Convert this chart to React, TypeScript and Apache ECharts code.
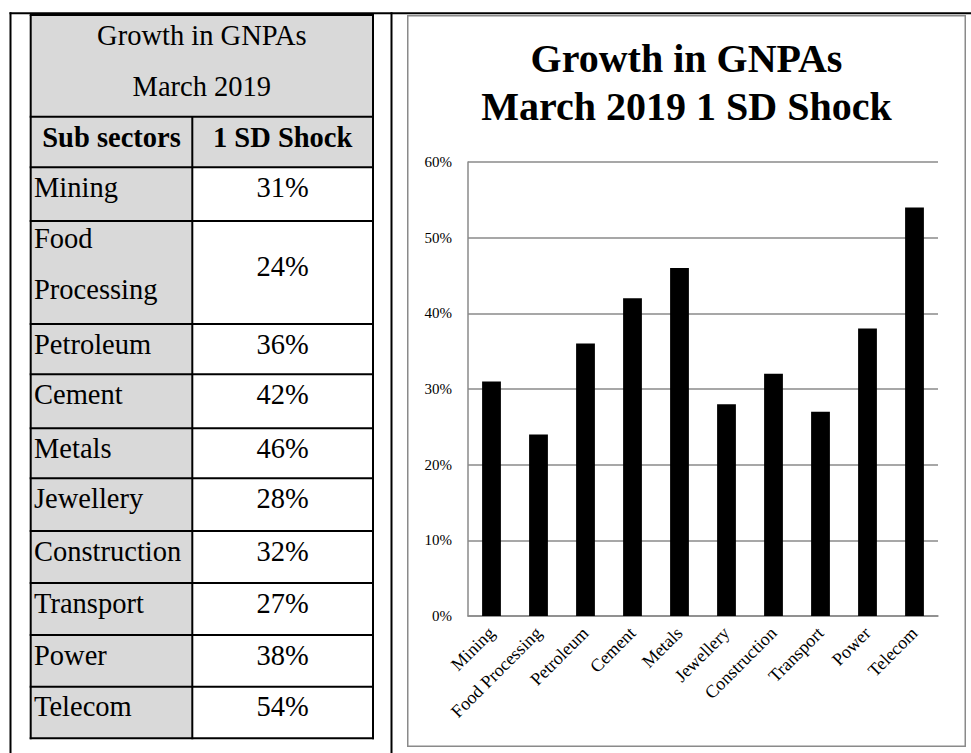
import React, { useEffect, useRef } from "react";
import * as echarts from "echarts";

// ---------- data ----------
const categories = [
  "Mining",
  "Food Processing",
  "Petroleum",
  "Cement",
  "Metals",
  "Jewellery",
  "Construction",
  "Transport",
  "Power",
  "Telecom",
];
const shockValues = [31, 24, 36, 42, 46, 28, 32, 27, 38, 54];
const tableNameLines = [
  ["Mining"],
  ["Food", "Processing"],
  ["Petroleum"],
  ["Cement"],
  ["Metals"],
  ["Jewellery"],
  ["Construction"],
  ["Transport"],
  ["Power"],
  ["Telecom"],
];
const tableValueLabels = ["31%", "24%", "36%", "42%", "46%", "28%", "32%", "27%", "38%", "54%"];
const tableTitleLines = ["Growth in GNPAs", "March 2019"];
const tableHeaders = ["Sub sectors", "1 SD Shock"];
const chartTitleLines = ["Growth in GNPAs", "March 2019 1 SD Shock"];
const yMin = 0;
const yMax = 60;
const yStep = 10;

// ---------- layout ----------
const FONT = "'Liberation Serif', 'Times New Roman', serif";
const T_LEFT = 30.7;
const T_MID = 192.3;
const T_RIGHT = 373;
const T_TOP = 15;
// bottoms: title cell, header row, then each data row
const rowBorders = [116.7, 167.3, 221, 324, 374.3, 428.3, 478.3, 531, 583, 635, 686.7, 738.3];
const TABLE_FS = 28.5;
const GRAY = "#d9d9d9";

function txt(text: string, x: number, y: number, align: string, bold = false, size = TABLE_FS) {
  return {
    type: "text",
    silent: true,
    z: 10,
    style: {
      text,
      x,
      y,
      fill: "#000",
      fontFamily: FONT,
      fontSize: size,
      fontWeight: bold ? "bold" : "normal",
      align,
      textAlign: align,
      verticalAlign: "middle",
      textVerticalAlign: "middle",
    },
  };
}

function hline(y: number, x1: number, x2: number, w = 2) {
  return {
    type: "line",
    silent: true,
    z: 5,
    shape: { x1, y1: y, x2, y2: y },
    style: { stroke: "#000", lineWidth: w },
  };
}
function vline(x: number, y1: number, y2: number, w = 2) {
  return {
    type: "line",
    silent: true,
    z: 5,
    shape: { x1: x, y1, x2: x, y2 },
    style: { stroke: "#000", lineWidth: w },
  };
}

function buildTableGraphics() {
  const els: any[] = [];
  const bottom = rowBorders[rowBorders.length - 1];
  // gray fills
  els.push({
    type: "rect",
    silent: true,
    z: 1,
    shape: { x: T_LEFT, y: T_TOP, width: T_RIGHT - T_LEFT, height: rowBorders[1] - T_TOP },
    style: { fill: GRAY },
  });
  els.push({
    type: "rect",
    silent: true,
    z: 1,
    shape: { x: T_LEFT, y: rowBorders[1], width: T_MID - T_LEFT, height: bottom - rowBorders[1] },
    style: { fill: GRAY },
  });
  // outer page frame lines
  els.push(hline(13.3, 9.5, 971, 2));
  els.push(vline(10.5, 12.3, 753, 2));
  els.push(vline(391.5, 12.3, 753, 2));
  // table borders
  els.push(hline(T_TOP, T_LEFT - 1, T_RIGHT + 1));
  rowBorders.forEach((y) => els.push(hline(y, T_LEFT - 1, T_RIGHT + 1)));
  els.push(vline(T_LEFT, T_TOP, bottom + 1));
  els.push(vline(T_RIGHT, T_TOP, bottom + 1));
  els.push(vline(T_MID, rowBorders[0], bottom + 1));

  // title cell
  const cx = (T_LEFT + T_RIGHT) / 2;
  els.push(txt(tableTitleLines[0], cx, T_TOP + 20, "center"));
  els.push(txt(tableTitleLines[1], cx, T_TOP + 71.7, "center"));
  // header
  const c1 = (T_LEFT + T_MID) / 2;
  const c2 = (T_MID + T_RIGHT) / 2;
  els.push(txt(tableHeaders[0], c1, rowBorders[0] + 21, "center", true));
  els.push(txt(tableHeaders[1], c2, rowBorders[0] + 21, "center", true));
  // data rows
  tableNameLines.forEach((lines, i) => {
    const top = rowBorders[i + 1];
    if (lines.length === 1) {
      els.push(txt(lines[0], 34, top + 20, "left"));
      els.push(txt(tableValueLabels[i], c2, top + 20, "center"));
    } else {
      els.push(txt(lines[0], 34, top + 17.5, "left"));
      els.push(txt(lines[1], 34, top + 68.5, "left"));
      els.push(txt(tableValueLabels[i], c2, top + 45, "center"));
    }
  });
  return els;
}

export default function App() {
  const tableRef = useRef<HTMLDivElement>(null);
  const chartRef = useRef<HTMLDivElement>(null);

  useEffect(() => {
    if (!tableRef.current || !chartRef.current) return;
    const tableChart = echarts.init(tableRef.current, null, { renderer: "svg" });
    tableChart.setOption({
      animation: false,
      graphic: buildTableGraphics(),
    });

    const chart = echarts.init(chartRef.current, null, { renderer: "svg" });
    const axisColor = "#8a8a8a";
    chart.setOption({
      animation: false,
      title: {
        text: chartTitleLines.join("\n"),
        left: "center",
        top: 19,
        padding: 0,
        textStyle: {
          fontFamily: FONT,
          fontSize: 40,
          fontWeight: "bold",
          lineHeight: 48,
          color: "#000",
        },
      },
      grid: { left: 61, top: 147, width: 470, height: 454 },
      xAxis: {
        type: "category",
        data: categories,
        axisLine: { show: true, lineStyle: { color: axisColor, width: 1.5 } },
        axisTick: { show: false },
        axisLabel: {
          interval: 0,
          rotate: 45,
          margin: 14,
          fontFamily: FONT,
          fontSize: 18,
          color: "#000",
        },
      },
      yAxis: {
        type: "value",
        min: yMin,
        max: yMax,
        interval: yStep,
        axisLine: { show: true, lineStyle: { color: axisColor, width: 1.5 } },
        axisTick: { show: false },
        splitLine: { show: true, lineStyle: { color: axisColor, width: 1.5 } },
        axisLabel: {
          formatter: "{value}%",
          margin: 16,
          fontFamily: FONT,
          fontSize: 15,
          color: "#000",
        },
      },
      series: [
        {
          type: "bar",
          data: shockValues,
          barWidth: "40%",
          itemStyle: { color: "#000" },
        },
      ],
      graphic: [
        {
          type: "rect",
          silent: true,
          shape: { x: 0.75, y: 0.75, width: 557.5, height: 730.5 },
          style: { fill: "none", stroke: axisColor, lineWidth: 1.5 },
        },
      ],
    });

    return () => {
      tableChart.dispose();
      chart.dispose();
    };
  }, []);

  return (
    <div style={{ position: "absolute", left: 0, top: 0, width: 971, height: 753, background: "#fff" }}>
      <div ref={tableRef} style={{ position: "absolute", left: 0, top: 0, width: 971, height: 753 }} />
      <div ref={chartRef} style={{ position: "absolute", left: 407, top: 15, width: 559, height: 732 }} />
    </div>
  );
}
